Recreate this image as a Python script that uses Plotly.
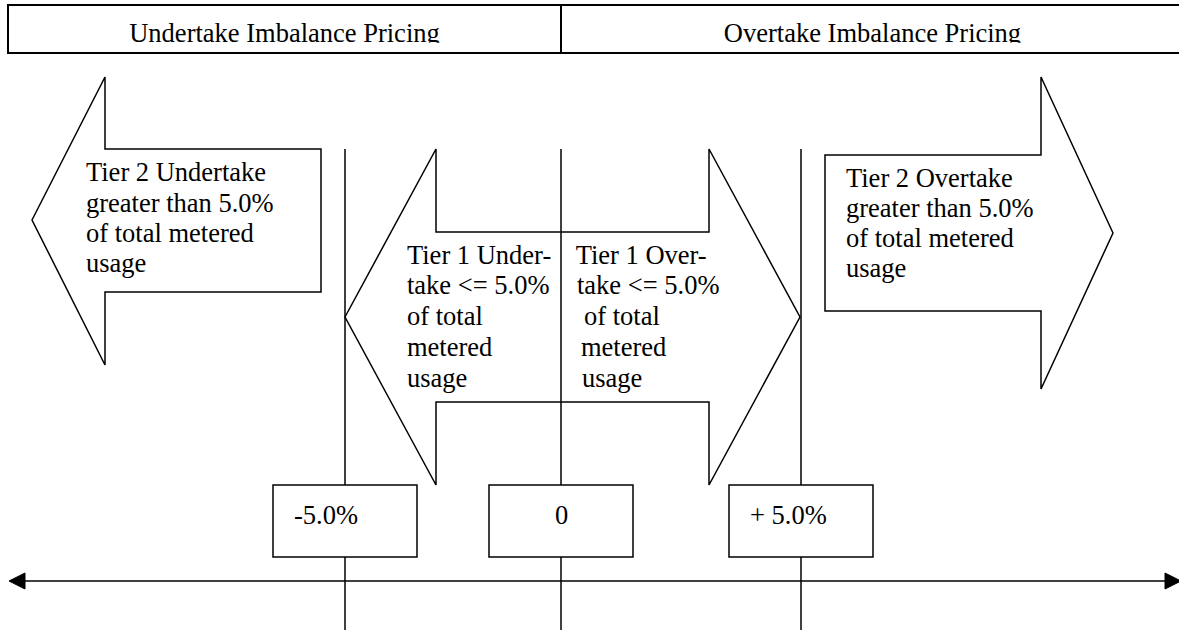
import plotly.graph_objects as go

# ---------------- data (labels of the diagram) ----------------
header_labels = ["Undertake Imbalance Pricing", "Overtake Imbalance Pricing"]
tier2_under_lines = ["Tier 2 Undertake", "greater than 5.0%", "of total metered", "usage"]
tier2_over_lines = ["Tier 2 Overtake", "greater than 5.0%", "of total metered", "usage"]
tier1_under_lines = ["Tier 1 Under-", "take <= 5.0%", "of total", "metered", "usage"]
tier1_over_lines = ["Tier 1 Over-", "take <= 5.0%", " of total", "metered", "usage"]
threshold_labels = ["-5.0%", "0", "+ 5.0%"]
threshold_values = [-5.0, 0.0, 5.0]

# ---------------- layout geometry (pixel coordinates) ----------------
W, H = 1179, 630
FS = 26.5
FONT = "'Times New Roman', 'Liberation Serif', Times, serif"
LW = 1.5

threshold_x = [345, 561, 801]           # positions of -5%, 0, +5%
box_half_w, box_top, box_bot = 72, 485, 557
label_left = [293, None, 749]
label_baseline = 521.5

header_top, header_bot, header_left, header_right = 5, 53, 8, 1186
header_centers = [284.5, 872.5]
header_baseline = 41.7

t2u_x, t2u_base = [86] * 4, [180.7, 211.7, 241.9, 271.9]
t2o_x, t2o_base = [846] * 4, [186.7, 216.7, 246.9, 276.9]
t1_base = [263.5, 294.3, 325.1, 355.9, 386.7]
t1u_x = [407] * 5
t1o_x = [575.7, 577, 584, 581, 582]

axis_y = 581


def esc(s):
    return s.replace("<", "&lt;").replace(">", "&gt;")


def pt_y(baseline):
    # scatter text 'middle ...' puts baseline at y + 0.25*fontsize
    return baseline - 0.25 * FS


fig = go.Figure()

def add_text(xs, bases, texts, pos):
    fig.add_trace(go.Scatter(
        x=xs, y=[pt_y(b) for b in bases], mode="text",
        text=[esc(t.strip()) for t in texts], textposition=pos,
        textfont=dict(family=FONT, size=FS, color="black"),
        hoverinfo="skip", showlegend=False, cliponaxis=False))

add_text(header_centers, [header_baseline] * 2, header_labels, "middle center")
add_text(t2u_x, t2u_base, tier2_under_lines, "middle right")
add_text(t2o_x, t2o_base, tier2_over_lines, "middle right")
add_text(t1u_x, t1_base, tier1_under_lines, "middle right")
add_text(t1o_x, t1_base, tier1_over_lines, "middle right")

shapes = []
line = dict(color="black", width=LW)

# vertical reference lines
for x in threshold_x:
    shapes.append(dict(type="line", x0=x, x1=x, y0=149, y1=H, line=line, layer="above"))

# Tier 2 undertake arrow (left)
shapes.append(dict(type="path", path="M 32 220 L 105 77 L 105 149 L 321 149 L 321 292 L 105 292 L 105 365 Z",
                   line=line, fillcolor="rgba(0,0,0,0)", layer="above"))
# Tier 2 overtake arrow (right)
shapes.append(dict(type="path", path="M 1113 233 L 1041 77 L 1041 155 L 825 155 L 825 311 L 1041 311 L 1041 389 Z",
                   line=line, fillcolor="rgba(0,0,0,0)", layer="above"))
# Tier 1 double arrow
shapes.append(dict(type="path",
                   path="M 345 317 L 436 149 L 436 232 L 709 232 L 709 149 L 800 317 L 709 485 L 709 402 L 436 402 L 436 485 Z",
                   line=line, fillcolor="rgba(0,0,0,0)", layer="above"))

# horizontal axis with arrow heads
shapes.append(dict(type="line", x0=22, x1=1168, y0=axis_y, y1=axis_y, line=line, layer="above"))
shapes.append(dict(type="path", path=f"M 9 {axis_y} L 25 {axis_y-8} L 25 {axis_y+8} Z",
                   line=dict(color="black", width=1), fillcolor="black", layer="above"))
shapes.append(dict(type="path", path=f"M 1181 {axis_y} L 1165 {axis_y-8} L 1165 {axis_y+8} Z",
                   line=dict(color="black", width=1), fillcolor="black", layer="above"))

# threshold boxes (white-filled, covering the lines)
for x in threshold_x:
    shapes.append(dict(type="rect", x0=x - box_half_w, x1=x + box_half_w, y0=box_top, y1=box_bot,
                       line=line, fillcolor="white", layer="above"))

# header: clip descenders, then box
shapes.append(dict(type="rect", x0=header_left + 2, x1=559.5, y0=42.8, y1=51.6,
                   line=dict(width=0), fillcolor="white", layer="above"))
shapes.append(dict(type="rect", x0=562.5, x1=W, y0=42.8, y1=51.6,
                   line=dict(width=0), fillcolor="white", layer="above"))
shapes.append(dict(type="rect", x0=header_left, x1=header_right, y0=header_top, y1=header_bot,
                   line=dict(color="black", width=2), fillcolor="rgba(0,0,0,0)", layer="above"))
shapes.append(dict(type="line", x0=561, x1=561, y0=header_top, y1=header_bot,
                   line=dict(color="black", width=2), layer="above"))

# threshold labels on top of the boxes
annotations = []
for lbl, lx, cx in zip(threshold_labels, label_left, threshold_x):
    if lx is None:
        annotations.append(dict(x=cx, y=pt_y(label_baseline), text=esc(lbl), showarrow=False,
                                xanchor="center", yanchor="middle",
                                font=dict(family=FONT, size=FS, color="black")))
    else:
        annotations.append(dict(x=lx, y=pt_y(label_baseline), text=esc(lbl), showarrow=False,
                                xanchor="left", yanchor="middle", xshift=-1,
                                font=dict(family=FONT, size=FS, color="black")))

fig.update_layout(
    width=W, height=H, margin=dict(l=0, r=0, t=0, b=0),
    paper_bgcolor="white", plot_bgcolor="white",
    font=dict(family=FONT),
    xaxis=dict(range=[0, W], visible=False, fixedrange=True),
    yaxis=dict(range=[H, 0], visible=False, fixedrange=True),
    shapes=shapes, annotations=annotations, showlegend=False,
)

fig.write_html("out.html", config={"displayModeBar": False},
               post_script="document.body.style.margin='0';document.body.style.overflow='hidden';")
